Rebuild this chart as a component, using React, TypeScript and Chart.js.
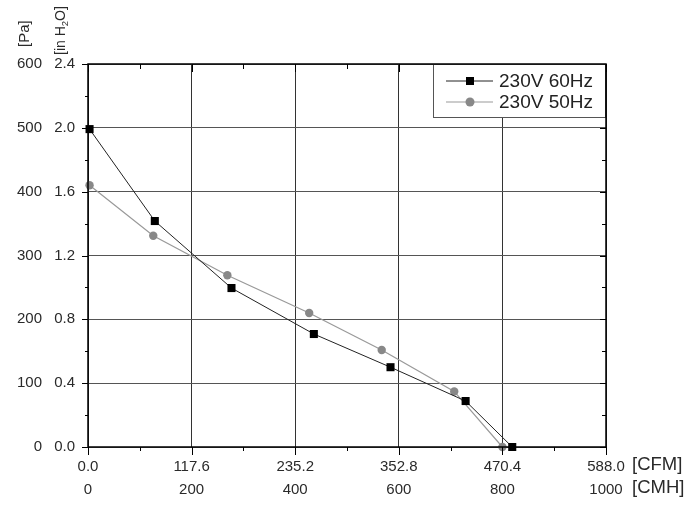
import { useEffect, useRef } from "react";
import { Chart, registerables } from "chart.js";

Chart.register(...registerables);

// ---- data ----
const cmhTicks = [0, 200, 400, 600, 800, 1000];
const cfmLabels = ["0.0", "117.6", "235.2", "352.8", "470.4", "588.0"];
const paTicks = [0, 100, 200, 300, 400, 500, 600];
const inH2OLabels = ["0.0", "0.4", "0.8", "1.2", "1.6", "2.0", "2.4"];
const seriesNames = ["230V 60Hz", "230V 50Hz"];
const flow60 = [3, 129, 277, 436, 584, 729, 819];
const pressure60 = [498, 354, 249, 177, 125, 72, 0];
const flow50 = [3, 126, 269, 427, 567, 707, 800];
const pressure50 = [410, 331, 269, 210, 152, 87, 0];

const FONT = '"Liberation Sans", Arial, Helvetica, sans-serif';
const TXT = "#2a2a2a";

const decor = {
  id: "decor",
  afterDatasetsDraw(chart: any) {
    const { ctx, chartArea: a, scales } = chart;
    const xs = scales.xCmh;
    const ys = scales.yPa;
    ctx.save();
    ctx.strokeStyle = "#000";
    ctx.lineWidth = 1;
    const seg = (x1: number, y1: number, x2: number, y2: number) => {
      ctx.beginPath();
      ctx.moveTo(x1, y1);
      ctx.lineTo(x2, y2);
      ctx.stroke();
    };
    const xMax = cmhTicks[cmhTicks.length - 1];
    const xStep = cmhTicks[1] - cmhTicks[0];
    for (let v = 0; v <= xMax; v += xStep / 2) {
      const px = Math.round(xs.getPixelForValue(v)) + 0.5;
      const major = v % xStep === 0;
      seg(px, a.bottom, px, a.bottom + (major ? 8 : 4));
      seg(px, a.top, px, a.top + (major ? 8 : 5));
    }
    const yMax = paTicks[paTicks.length - 1];
    const yStep = paTicks[1] - paTicks[0];
    for (let v = 0; v <= yMax; v += yStep / 2) {
      const py = Math.round(ys.getPixelForValue(v)) + 0.5;
      const major = v % yStep === 0;
      seg(a.left - (major ? 6 : 3), py, a.left, py);
      seg(a.right, py, a.right - (major ? 6 : 4), py);
    }

    // legend
    const bw = 173;
    const bh = 54;
    const bx = a.right - bw;
    const by = a.top;
    ctx.fillStyle = "#fff";
    ctx.fillRect(bx, by, bw, bh);
    ctx.lineWidth = 1;
    ctx.strokeStyle = "#555";
    ctx.strokeRect(bx + 0.5, by + 0.5, bw - 1, bh - 1);
    // frame
    ctx.lineWidth = 1.5;
    ctx.strokeStyle = "#000";
    ctx.strokeRect(a.left, a.top, a.right - a.left, a.bottom - a.top);
    const ds = chart.data.datasets;
    ds.forEach((d: any, i: number) => {
      const cy = by + 17 + i * 21;
      ctx.strokeStyle = d.borderColor;
      ctx.lineWidth = 1;
      seg(bx + 13, cy, bx + 60, cy);
      ctx.fillStyle = d.pointBackgroundColor;
      if (d.pointStyle === "rect") {
        ctx.fillRect(bx + 37 - 4, cy - 4, 8, 8);
      } else {
        ctx.beginPath();
        ctx.arc(bx + 37, cy, 4.5, 0, Math.PI * 2);
        ctx.fill();
      }
      ctx.fillStyle = "#222";
      ctx.font = `19px ${FONT}`;
      ctx.textAlign = "left";
      ctx.textBaseline = "middle";
      ctx.fillText(d.label, bx + 66, cy + 1);
    });
    ctx.restore();
  },
  afterDraw(chart: any) {
    const { ctx, chartArea: a } = chart;
    ctx.save();
    ctx.fillStyle = TXT;
    ctx.font = `18.5px ${FONT}`;
    ctx.textAlign = "left";
    ctx.textBaseline = "middle";
    ctx.fillText("[CFM]", a.right + 26, a.bottom + 18);
    ctx.fillText("[CMH]", a.right + 26, a.bottom + 41);

    // [Pa]
    ctx.save();
    ctx.translate(25, 47);
    ctx.rotate(-Math.PI / 2);
    ctx.font = `15px ${FONT}`;
    ctx.fillText("[Pa]", 0, 0);
    ctx.restore();

    // [in H2O]
    ctx.save();
    ctx.translate(61, 55);
    ctx.rotate(-Math.PI / 2);
    ctx.font = `14px ${FONT}`;
    const p1 = "[in H";
    ctx.fillText(p1, 0, 0);
    const w1 = ctx.measureText(p1).width;
    ctx.font = `9.5px ${FONT}`;
    ctx.fillText("2", w1, 4.5);
    const w2 = ctx.measureText("2").width;
    ctx.font = `14px ${FONT}`;
    ctx.fillText("O]", w1 + w2, 0);
    ctx.restore();

    ctx.restore();
  },
};

export default function App() {
  const ref = useRef<HTMLCanvasElement | null>(null);
  useEffect(() => {
    if (!ref.current) return;
    const tickFont = { family: FONT, size: 15 };
    const chart = new Chart(ref.current, {
      type: "scatter",
      data: {
        datasets: [
          {
            label: seriesNames[0],
            data: flow60.map((x, i) => ({ x, y: pressure60[i] })),
            showLine: true,
            borderColor: "#222",
            borderWidth: 1,
            pointStyle: "rect",
            pointRadius: 5.7,
            pointBackgroundColor: "#000",
            pointBorderColor: "#000",
            pointBorderWidth: 0,
            xAxisID: "xCmh",
            yAxisID: "yPa",
            clip: false as any,
          },
          {
            label: seriesNames[1],
            data: flow50.map((x, i) => ({ x, y: pressure50[i] })),
            showLine: true,
            borderColor: "#999",
            borderWidth: 1.2,
            pointStyle: "circle",
            pointRadius: 4.2,
            pointBackgroundColor: "#888",
            pointBorderColor: "#888",
            pointBorderWidth: 0,
            xAxisID: "xCmh",
            yAxisID: "yPa",
            clip: false as any,
          },
        ],
      },
      options: {
        animation: false,
        responsive: true,
        maintainAspectRatio: false,
        layout: { padding: { left: 0, top: 64, right: 94, bottom: 15 } },
        plugins: { legend: { display: false }, tooltip: { enabled: false } },
        scales: {
          xCfm: {
            type: "linear",
            position: "bottom",
            weight: 0,
            min: 0,
            max: 1000,
            ticks: {
              stepSize: 200,
              padding: 11,
              color: TXT,
              font: tickFont,
              maxRotation: 0,
              callback: (v: any) => {
                const i = cmhTicks.indexOf(Number(v));
                return i >= 0 ? cfmLabels[i] : "";
              },
            },
            grid: { drawTicks: false, color: "#333", lineWidth: 1 },
            border: { display: false },
            afterFit: (s: any) => {
              s.height = 24;
            },
          },
          xCmh: {
            type: "linear",
            position: "bottom",
            weight: 1,
            min: 0,
            max: 1000,
            ticks: {
              stepSize: 200,
              padding: 10,
              color: TXT,
              font: tickFont,
              maxRotation: 0,
              callback: (v: any) => String(v),
            },
            grid: { display: false, drawTicks: false },
            border: { display: false },
            afterFit: (s: any) => {
              s.height = 30;
            },
          },
          yIn: {
            type: "linear",
            position: "left",
            weight: 0,
            min: 0,
            max: 600,
            ticks: {
              stepSize: 100,
              padding: 13,
              color: TXT,
              font: tickFont,
              callback: (v: any) => {
                const i = paTicks.indexOf(Number(v));
                return i >= 0 ? inH2OLabels[i] : "";
              },
            },
            grid: { drawTicks: false, color: "#555", lineWidth: 1 },
            border: { display: false },
            afterFit: (s: any) => {
              s.width = 40;
            },
          },
          yPa: {
            type: "linear",
            position: "left",
            weight: 1,
            min: 0,
            max: 600,
            ticks: {
              stepSize: 100,
              padding: 6,
              color: TXT,
              font: tickFont,
              callback: (v: any) => String(v),
            },
            grid: { display: false, drawTicks: false },
            border: { display: false },
            afterFit: (s: any) => {
              s.width = 48;
            },
          },
        },
      } as any,
      plugins: [decor],
    });
    return () => chart.destroy();
  }, []);
  return (
    <div
      style={{
        position: "fixed",
        left: 0,
        top: 0,
        width: 700,
        height: 516,
        background: "#fff",
      }}
    >
      <canvas ref={ref} />
    </div>
  );
}
